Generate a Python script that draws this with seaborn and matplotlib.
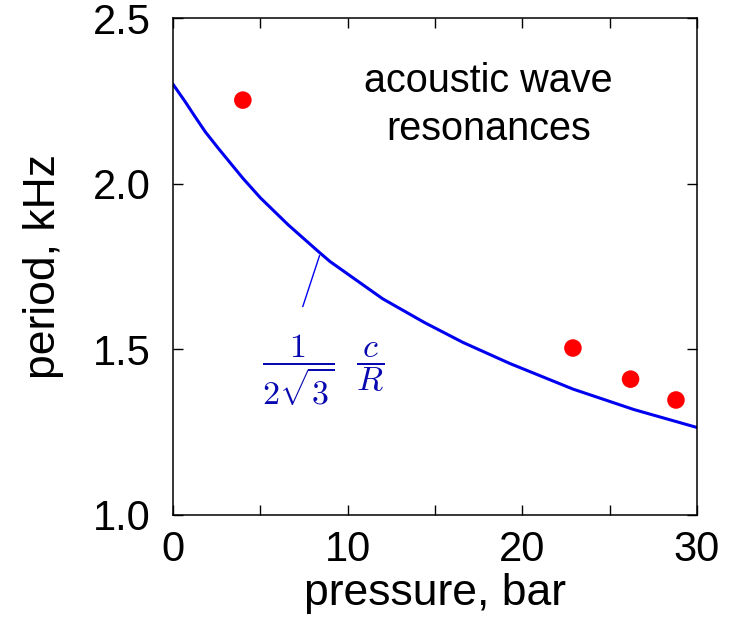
import matplotlib
matplotlib.use("Agg")
import matplotlib.pyplot as plt
import seaborn as sns
import pandas as pd

# Data
curve_pressure = [0, 0.7, 1.3, 1.85, 2.6, 3.3, 4.0, 5.0, 6.6, 8.4, 9.0, 12.0, 14.4, 16.6, 19.3, 22.9, 26.4, 30]
curve_freq = [2.300, 2.247, 2.199, 2.156, 2.106, 2.061, 2.016, 1.957, 1.875, 1.791, 1.764,
              1.652, 1.580, 1.520, 1.456, 1.379, 1.317, 1.263]
meas_pressure = [4.0, 22.9, 26.2, 28.8]
meas_freq = [2.252, 1.503, 1.409, 1.346]
x_ticks = [0, 5, 10, 15, 20, 25, 30]
x_tick_labels = ["0", "", "10", "", "20", "", "30"]
y_ticks = [1.0, 1.5, 2.0, 2.5]

sns.set_theme(style="ticks")
plt.rcParams['font.family'] = ['Liberation Sans', 'DejaVu Sans']
plt.rcParams['mathtext.fontset'] = 'cm'
plt.rcParams['text.color'] = 'black'
plt.rcParams['axes.labelcolor'] = 'black'

fig = plt.figure(figsize=(7.29, 6.30), dpi=100)
ax = fig.add_axes([0.2373, 0.1833, 0.7187, 0.7881])

curve_df = pd.DataFrame({"p": curve_pressure, "f": curve_freq})
meas_df = pd.DataFrame({"p": meas_pressure, "f": meas_freq})

sns.lineplot(data=curve_df, x="p", y="f", ax=ax, color="#0000f0", linewidth=2.2, sort=False)
sns.scatterplot(data=meas_df, x="p", y="f", ax=ax, color="#ff0000", s=160, edgecolor="none", zorder=5)

ax.set_xlim(0, 30)
ax.set_ylim(1.0, 2.5)
ax.set_xticks(x_ticks)
ax.set_xticklabels(x_tick_labels)
ax.set_yticks(y_ticks)
ax.set_yticklabels([f"{v:.1f}" for v in y_ticks])

ax.tick_params(direction="in", length=7, width=1.0, labelsize=30, top=True, right=True,
               colors="black", labelcolor="black")
ax.tick_params(axis="x", pad=11)
ax.tick_params(axis="y", pad=16)
for s in ax.spines.values():
    s.set_visible(True)
    s.set_linewidth(1.1)
    s.set_color("black")

ax.set_xlabel("pressure, bar", fontsize=32, labelpad=2, color="black")
ax.set_ylabel("period, kHz", fontsize=32, labelpad=21, color="black")

ax.text(18.05, 2.237, "acoustic wave\nresonances", fontsize=28.5, ha="center", va="center",
        linespacing=1.36, color="black")

ax.annotate("", xy=(8.39, 1.782), xytext=(7.43, 1.628),
            arrowprops=dict(arrowstyle="-", color="#0000f0", lw=1.0, shrinkA=0, shrinkB=0))
ax.text(8.6, 1.437, r"$\dfrac{1}{2\sqrt{3}}\ \ \dfrac{c}{R}$", fontsize=24.5, color="#0808b0",
        ha="center", va="center")

fig.savefig("out.png", dpi=100)
